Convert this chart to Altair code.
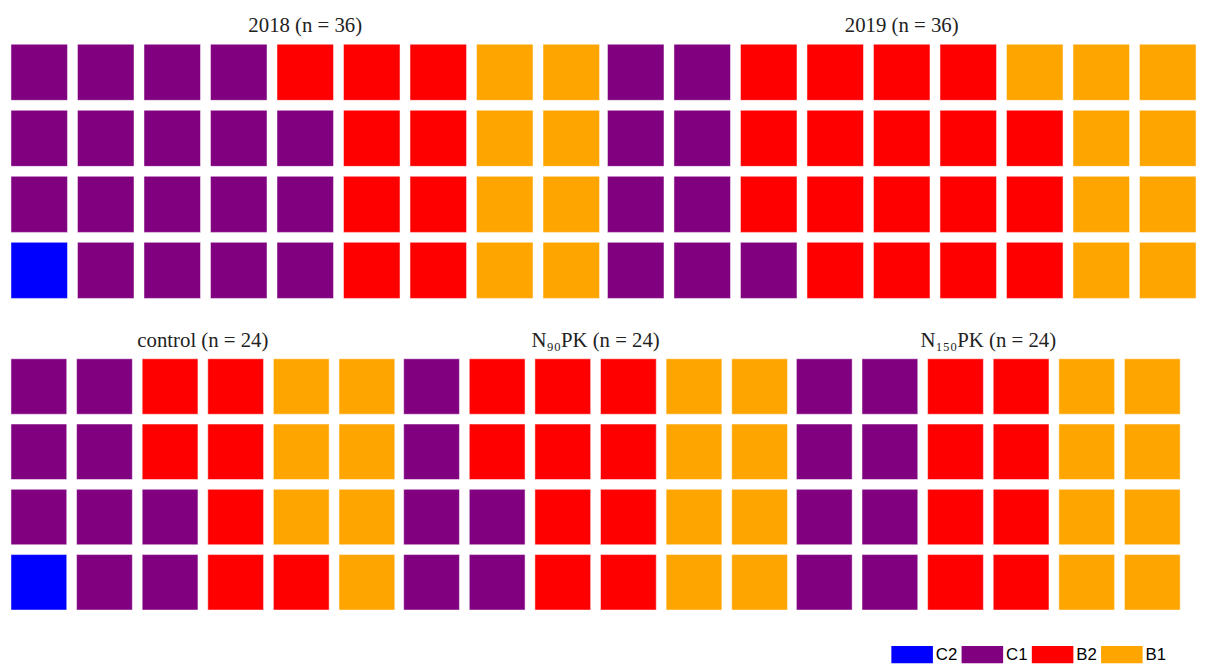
import altair as alt
import pandas as pd

categories = ['C2', 'C1', 'B2', 'B1']
colors = ['blue', 'purple', 'red', 'orange']

panels = ['2018 (n = 36)', '2019 (n = 36)', 'control (n = 24)',
          'N₉₀PK (n = 24)', 'N₁₅₀PK (n = 24)']
counts = {
    '2018 (n = 36)': [1, 18, 9, 8],
    '2019 (n = 36)': [0, 9, 18, 9],
    'control (n = 24)': [1, 9, 7, 7],
    'N₉₀PK (n = 24)': [0, 6, 10, 8],
    'N₁₅₀PK (n = 24)': [0, 8, 8, 8],
}
n_rows = 4

rows = []
for p in panels:
    i = 0
    for cat, c in zip(categories, counts[p]):
        for _ in range(c):
            rows.append({'panel': p, 'col': i // n_rows, 'row': i % n_rows, 'cat': cat})
            i += 1
df = pd.DataFrame(rows)

color = alt.Color('cat:N', scale=alt.Scale(domain=categories, range=colors),
                  legend=alt.Legend(title=None, orient='none', direction='horizontal',
                                    legendX=890, legendY=596,
                                    symbolType='M-1,-0.42H1V0.42H-1Z', symbolSize=1764,
                                    symbolStrokeWidth=0, symbolOpacity=1,
                                    labelFont='Liberation Sans', labelFontSize=17,
                                    labelColor='black', columnPadding=4, labelOffset=3))


def panel(p, w, h):
    ncol = max(df[df.panel == p]['col']) + 1
    return alt.Chart(df[df.panel == p], title=alt.TitleParams(
        p, font='Liberation Serif', fontSize=21, fontWeight='normal', color='#222')).mark_rect(
        opacity=1, stroke='white', strokeWidth=0.5).encode(
        x=alt.X('col:O', axis=None, scale=alt.Scale(domain=list(range(ncol)), paddingInner=0.15, paddingOuter=0)),
        y=alt.Y('row:O', axis=None, scale=alt.Scale(domain=[3, 2, 1, 0], paddingInner=0.15, paddingOuter=0)),
        color=color,
    ).properties(width=w, height=h)


top = alt.hconcat(panel(panels[0], 595, 257), panel(panels[1], 595, 257), spacing=6)
bottom = alt.hconcat(panel(panels[2], 388, 254), panel(panels[3], 388, 254),
                     panel(panels[4], 388, 254), spacing=7)
chart = alt.vconcat(top, bottom, spacing=30).configure_view(stroke=None).configure_title(
    offset=8).properties(padding={'left': 2, 'top': 3, 'right': 2, 'bottom': 2})

chart.save("out.html", embed_options={"renderer": "svg", "actions": False})
